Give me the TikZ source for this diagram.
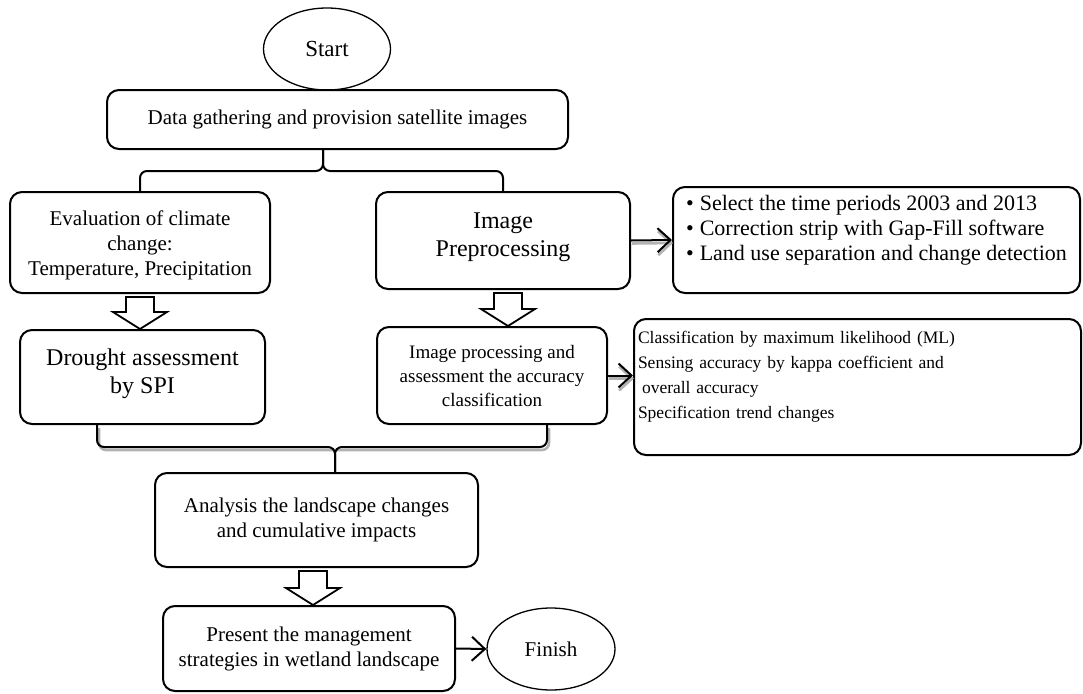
\documentclass[tikz,border=0pt]{standalone}
\usepackage{fontspec}
\setmainfont{Liberation Serif}
\usetikzlibrary{shapes.geometric,arrows.meta,calc}
\tikzset{
  box/.style={draw, line width=2pt, rounded corners=12pt, align=center, inner sep=3pt},
  ell/.style={draw, ellipse, line width=1.3pt, inner sep=0pt},
  brace/.style={line width=2pt, rounded corners=7pt},
  braceshadow/.style={line width=2.6pt, draw=black!30, rounded corners=7pt},
  blk/.style={draw, fill=white, line width=1.8pt, line join=miter},
  link/.style={line width=2pt, -{Straight Barb[length=13pt,width=24pt,line width=2pt]}},
  linkshadow/.style={line width=2.6pt, draw=black!30, -{Straight Barb[length=13pt,width=24pt,line width=2.6pt]}},
  fa/.style={font=\fontsize{21}{25}\selectfont},
  fb/.style={font=\fontsize{24}{28}\selectfont},
  fl/.style={font=\fontsize{22}{25}\selectfont},
  fn/.style={font=\fontsize{17.5}{25}\selectfont},
  fp/.style={font=\fontsize{19}{24}\selectfont},
}
\newcommand\blockarrow[3][0]{%
  \draw[blk] let \p1=(#2.south), \p2=(#3.north) in
    (\x1+#1pt-14pt,\y1-3pt) -- (\x1+#1pt+14pt,\y1-3pt) -- (\x1+#1pt+14pt,\y2+17pt)
    -- (\x1+#1pt+27pt,\y2+17pt) -- (\x1+#1pt,\y2) -- (\x1+#1pt-27pt,\y2+17pt)
    -- (\x1+#1pt-14pt,\y2+17pt) -- cycle;}
\begin{document}
\begin{tikzpicture}[x=1pt,y=-1pt]
\useasboundingbox (0,0) rectangle (1083,693);

% nodes
\node[ell, minimum width=127pt, minimum height=82pt, font=\fontsize{23}{26}\selectfont] (start) at (327,49) {Start};
\node[box, fa, minimum width=461pt, minimum height=59pt] (data) at (337.5,119.5) {Data gathering and provision satellite images};
\node[box, fa, minimum width=260pt, minimum height=101pt] (eval) at (140,242.5)
  {\mbox{}\\[-5pt]Evaluation of climate\\change:\\Temperature, Precipitation};
\node[box, fb, minimum width=254pt, minimum height=97pt] (preproc) at (503,240.5)
  {Image\\Preprocessing\\[-16pt]\mbox{}};
\node[box, fl, minimum width=407pt, minimum height=106pt, align=left] (bullets) at (876.5,240)
  {\textbullet\hspace{6pt}Select the time periods 2003 and 2013\\
   \textbullet\hspace{6pt}Correction strip with Gap-Fill software\\
   \textbullet\hspace{6pt}Land use separation and change detection\\[0pt]\mbox{}};
\node[box, fb, minimum width=245pt, minimum height=94pt] (drought) at (142.5,377)
  {Drought assessment\\by SPI\\[-16pt]\mbox{}};
\node[box, fp, minimum width=230pt, minimum height=97pt] (proc) at (492,375.5)
  {Image processing and\\assessment the accuracy\\classification};
\node[box, fn, text width=439pt, inner xsep=4pt, minimum height=136pt, align=left] (class) at (857.5,387)
  {Classification by maximum likelihood (ML)\\
   Sensing accuracy by kappa coefficient and\\
   \hspace*{4pt}overall accuracy\\
   Specification trend changes\\[0pt]\mbox{}};
\node[box, fa, minimum width=323pt, minimum height=94pt] (analysis) at (316.5,520)
  {Analysis the landscape changes\\and cumulative impacts};
\node[box, fa, minimum width=292pt, minimum height=85pt] (present) at (309,648.5)
  {Present the management\\strategies in wetland landscape};
\node[ell, fa, minimum width=128pt, minimum height=82pt] (finish) at (551,649) {Finish};

% top brace
\coordinate (tb) at (323,171);
\draw[brace] (eval.north) |- (tb) -- (data.south -| tb);
\draw[brace] (preproc.north) |- (tb) -- (data.south -| tb);

% bottom brace
\coordinate (bl) at (97,0);
\coordinate (br) at (547,0);
\coordinate (bb) at (335,447);
\draw[braceshadow] ($(drought.south -| bl)+(2,3)$) |- ($(bb)+(2,3)$);
\draw[braceshadow] ($(proc.south -| br)+(2,3)$) |- ($(bb)+(2,3)$);
\draw[brace] (drought.south -| bl) |- (bb) -- (analysis.north -| bb);
\draw[brace] (proc.south -| br) |- (bb) -- (analysis.north -| bb);

% block arrows
\blockarrow{eval}{drought}
\blockarrow[5]{preproc}{proc}
\blockarrow[-3.5]{analysis}{present}

% side arrows
\draw[linkshadow] ($(preproc.east)+(1,3)$) -- ($(bullets.west)+(1,3)$);
\draw[link] (preproc.east) -- (bullets.west);
\draw[linkshadow] ($(proc.east)+(1,3)$) -- ($(proc.east -| class.west)+(1,3)$);
\draw[link] (proc.east) -- (proc.east -| class.west);
\draw[link] (present.east) -- (finish.west);
\end{tikzpicture}
\end{document}
